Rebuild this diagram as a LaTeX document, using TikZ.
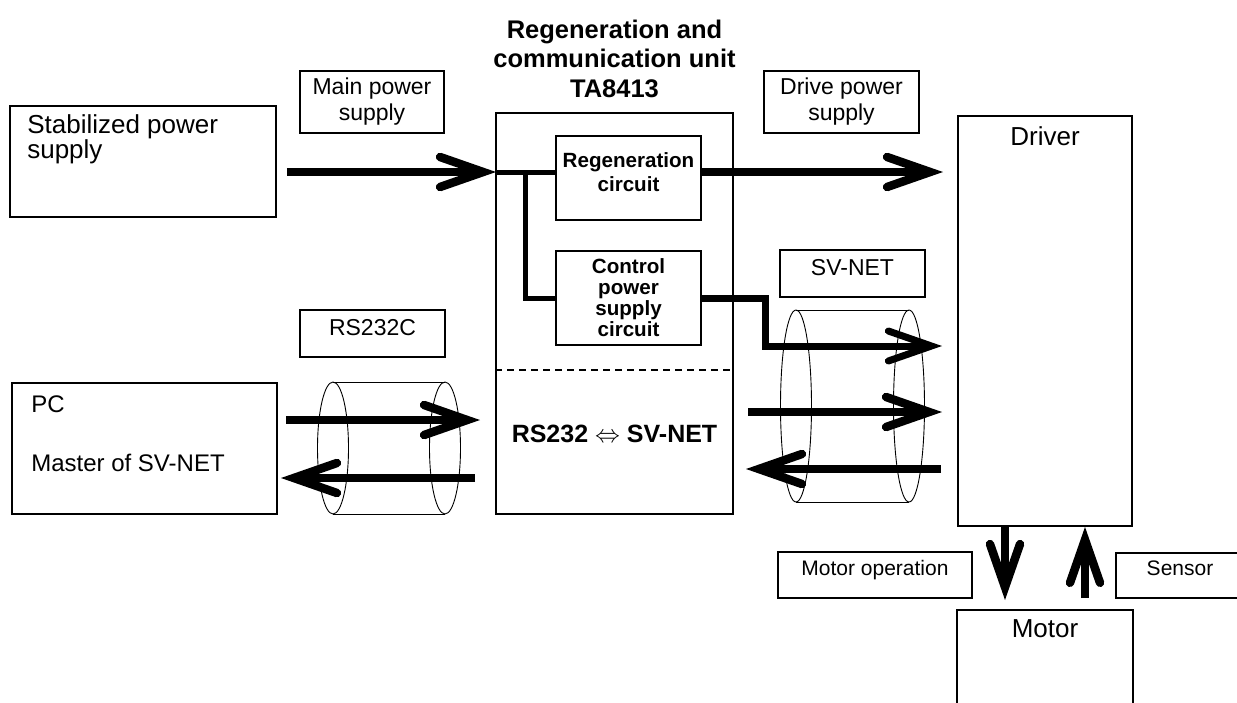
\documentclass[tikz,border=0pt]{standalone}
\usepackage{fontspec}
\setmainfont{Liberation Sans}
\usetikzlibrary{arrows.meta,calc}

\tikzset{
  box/.style={draw, line width=1.8pt, inner sep=0pt},
  tag/.style={draw, line width=1.4pt, inner sep=0pt, align=center,
    font=\fontsize{23}{26}\selectfont},
  tagline/.style={tag, text depth=12pt},
  smalltag/.style={tag, text depth=15pt, font=\fontsize{21}{24}\selectfont},
  bigtext/.style={font=\fontsize{26}{25}\selectfont, inner sep=0pt},
  innertext/.style={font=\bfseries\fontsize{20.6}{24}\selectfont, inner sep=0pt, align=center},
  flow/.style={line width=8.5pt,
    -{Straight Barb[length=43pt, width=30pt, line cap=round, line join=miter]}},
  bus/.style={line width=5pt},
  cable/.style={line width=0.9pt},
}

\begin{document}
\begin{tikzpicture}[x=1pt, y=-1pt]
\useasboundingbox (0,0) rectangle (1237,702);

% blocks
\node[box, minimum width=266pt, minimum height=111pt,
  label={[bigtext, align=left, anchor=north west, xshift=18pt, yshift=-9pt]north west:Stabilized power\\supply}]
  (stab) at (143,161.5) {};
\node[box, minimum width=265pt, minimum height=131pt,
  label={[font=\fontsize{24}{26}\selectfont, inner sep=0pt, align=left, anchor=north west, xshift=20pt, yshift=-13pt]north west:PC\\[33pt]Master of SV-NET}]
  (pc) at (144.5,448.5) {};
\node[box, minimum width=237pt, minimum height=401pt] (unit) at (614.5,313.5) {};
\node[font=\bfseries\fontsize{25.5}{29.5}\selectfont, inner sep=0pt, align=center, anchor=north]
  (unittitle) at (614.5,19.5) {Regeneration and\\communication unit\\TA8413};
\node[box, minimum width=145pt, minimum height=84pt,
  label={[innertext, anchor=north, yshift=-17pt]north:Regeneration\\circuit}]
  (regen) at (628.5,178) {};
\node[box, minimum width=145pt, minimum height=94pt,
  font=\bfseries\fontsize{20.6}{21}\selectfont, align=center]
  (ctrl) at (628.5,298) {Control\\power\\supply\\circuit};
\node[font=\bfseries\fontsize{25}{26}\selectfont, inner sep=0pt]
  (conv) at (614.5,433.5) {RS232 $\Leftrightarrow$ SV-NET};
\node[box, minimum width=174pt, minimum height=410pt,
  label={[bigtext, anchor=north, yshift=-11pt]north:Driver}]
  (driver) at (1045,321) {};
\node[box, minimum width=176pt, minimum height=130pt,
  label={[bigtext, anchor=north, yshift=-10pt]north:Motor}]
  (motor) at (1045,675) {};

% labels
\node[tag, minimum width=144pt, minimum height=62pt] (mainlbl) at (372,102) {Main power\\supply};
\node[tag, minimum width=155pt, minimum height=62pt] (drivelbl) at (841.5,102) {Drive power\\supply};
\node[tagline, minimum width=145pt, minimum height=47pt] (svlbl) at (852.5,273.5) {SV-NET};
\node[tagline, minimum width=145pt, minimum height=47pt] (rslbl) at (372.5,333.5) {RS232C};
\node[smalltag, minimum width=194pt, minimum height=46pt] (oplbl) at (875,575) {Motor operation};
\node[smalltag, minimum width=128pt, minimum height=45pt] (senslbl) at (1180,575.5) {Sensor};

% dashed split of the unit
\coordinate (split) at (0,370);
\draw[line width=1.2pt, dash pattern=on 7pt off 5pt] (unit.west |- split) -- (unit.east |- split);

% cables
\draw[cable] (333,382) -- (445,382) (333,514) -- (445,514);
\draw[cable] (333,448) ellipse [x radius=15.5pt, y radius=66pt];
\draw[cable] (445,448) ellipse [x radius=15.5pt, y radius=66pt];
\draw[cable] (796,310) -- (909,310) (796,502) -- (909,502);
\draw[cable] (796,406) ellipse [x radius=15.5pt, y radius=96pt];
\draw[cable] (909,406) ellipse [x radius=15.5pt, y radius=96pt];

% power lines
\coordinate (busin) at (496,172);
\coordinate (bustap) at (525,172);
\coordinate (drvin) at (943,172);
\coordinate (svbend) at (765,346);
\coordinate (svin) at (942,346);
\draw[flow] ($(stab.east |- busin)+(10,0)$) -- (busin);
\draw[bus] (busin) -- (busin -| regen.west);
\draw[bus] (bustap) |- (ctrl.west);
\draw[flow] (regen.east |- busin) -- (drvin);
\draw[flow, line width=7pt] (ctrl.east) -| (svbend) -- (svin);

% communication lines
\coordinate (svtx) at (748,412);
\coordinate (svrx) at (942,412);
\coordinate (svback) at (941,469);
\coordinate (svbackend) at (746,469);
\coordinate (rsout) at (286,420);
\coordinate (rsin) at (480,420);
\coordinate (rsback) at (475,478);
\coordinate (rsbackend) at (281,478);
\draw[flow] (svtx) -- (svrx);
\draw[flow] (svback) -- (svbackend);
\draw[flow] (rsout) -- (rsin);
\draw[flow] (rsback) -- (rsbackend);

% motor lines
\coordinate (optip) at (1005,600);
\coordinate (sensstart) at (1085,598);
\draw[flow] (driver.south -| optip) -- (optip);
\draw[flow] (sensstart) -- (driver.south -| sensstart);
\end{tikzpicture}
\end{document}
